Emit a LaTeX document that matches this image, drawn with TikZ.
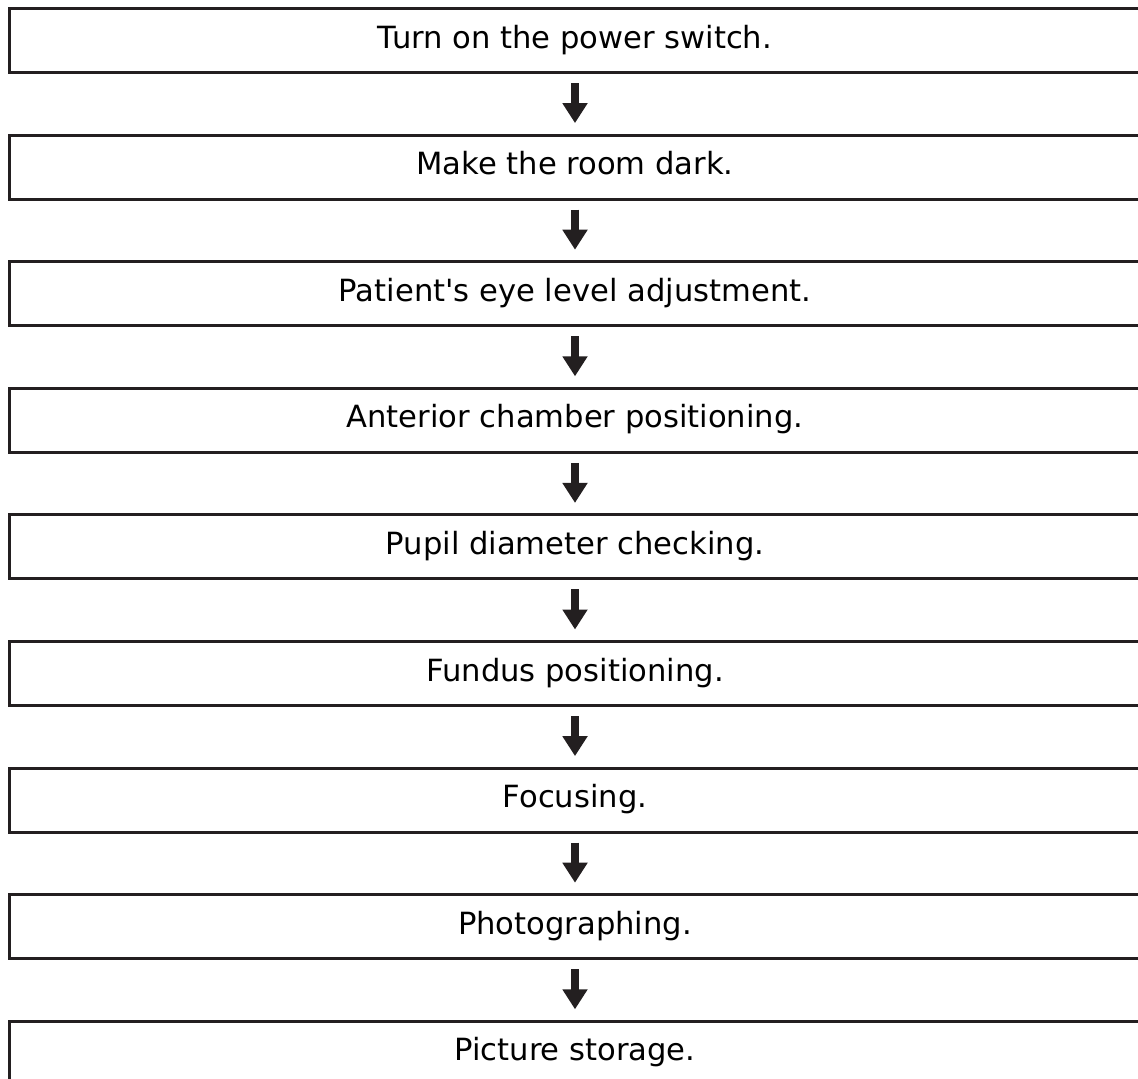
\documentclass[tikz,border=0pt]{standalone}
\usepackage{fontspec}
\newfontfamily\boxfont{DejaVu Sans}
\usetikzlibrary{arrows.meta}
\definecolor{inkgray}{HTML}{231F20}
\tikzset{
  stepbox/.style={draw=inkgray, line width=3pt, outer sep=0pt, minimum width=1131pt,
    minimum height=64pt, inner sep=0pt, text height=21pt, text depth=6pt,
    font=\boxfont\fontsize{30.6pt}{36pt}\selectfont, text=black},
  flowarrow/.style={draw=inkgray, line width=8pt, shorten <=10.5pt, shorten >=12pt,
    -{Triangle[width=24pt,length=20pt]}}
}
\begin{document}
\begin{tikzpicture}[x=1pt,y=-1pt]
\useasboundingbox (0,0) rectangle (1138,1079);
\clip (0,0) rectangle (1138,1079);
\fill[white] (0,0) rectangle (1138,1079);
\node[stepbox] (s1) at (575,40.5) {Turn on the power switch.};
\node[stepbox] (s2) at (575,167.1) {Make the room dark.};
\node[stepbox] (s3) at (575,293.7) {Patient\textquotesingle s eye level adjustment.};
\node[stepbox] (s4) at (575,420.3) {Anterior chamber positioning.};
\node[stepbox] (s5) at (575,546.9) {Pupil diameter checking.};
\node[stepbox] (s6) at (575,673.5) {Fundus positioning.};
\node[stepbox] (s7) at (575,800.1) {Focusing.};
\node[stepbox] (s8) at (575,926.7) {Photographing.};
\node[stepbox] (s9) at (575,1053.3) {Picture storage.};
\foreach \a/\b in {s1/s2,s2/s3,s3/s4,s4/s5,s5/s6,s6/s7,s7/s8,s8/s9}
  \draw[flowarrow] (\a.south) -- (\b.north);
\end{tikzpicture}
\end{document}
